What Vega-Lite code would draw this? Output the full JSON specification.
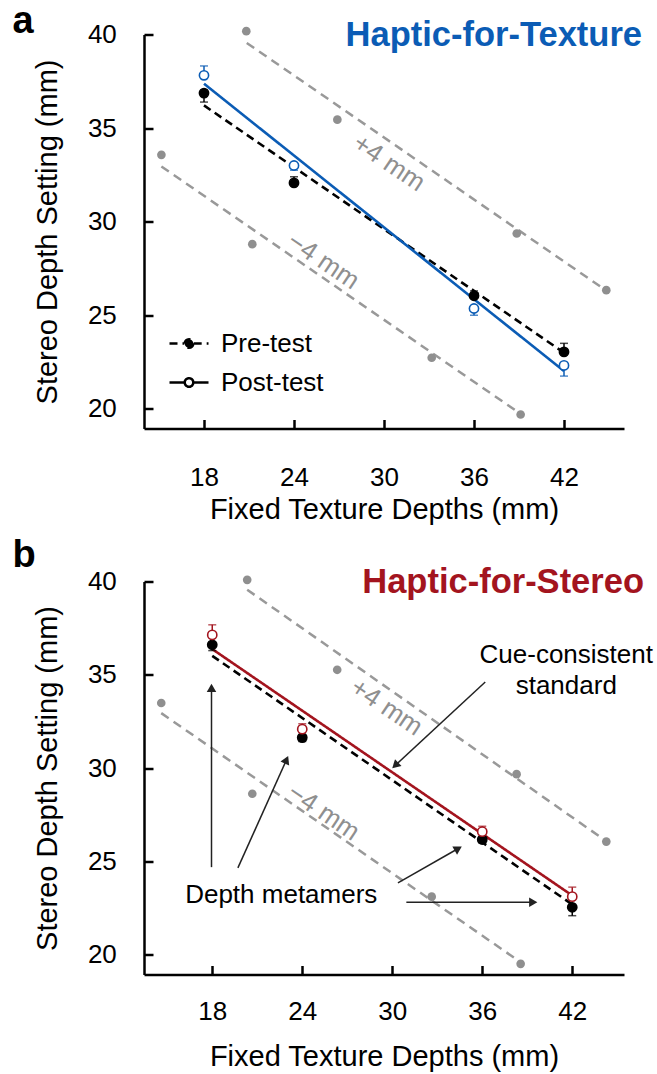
{
  "$schema": "https://vega.github.io/schema/vega-lite/v6.json",
  "padding": {"left": 12, "top": 2.5, "right": 5, "bottom": 5},
  "background": "white",
  "spacing": 12,
  "config": {
    "view": {"stroke": null},
    "font": "Liberation Sans",
    "axis": {
      "grid": false,
      "domainColor": "black",
      "domainWidth": 2.5,
      "tickColor": "black",
      "tickWidth": 2.5,
      "tickSize": -9,
      "labelFont": "Liberation Sans",
      "labelFontSize": 26,
      "labelColor": "black",
      "titleFont": "Liberation Sans",
      "titleFontSize": 29,
      "titleFontWeight": "normal",
      "titleColor": "black",
      "labelFlush": false,
      "labelOverlap": false
    }
  },
  "resolve": {
    "scale": {"x": "independent", "y": "independent", "color": "independent", "strokeDash": "independent", "stroke": "independent", "fill": "independent"},
    "legend": {"strokeDash": "independent", "color": "independent"}
  },
  "datasets": {
    "guides": [
      {"panel": "a", "offset": "+4", "x": 20.85, "y": 39.55},
      {"panel": "a", "offset": "+4", "x": 44.45, "y": 26.52},
      {"panel": "a", "offset": "-4", "x": 15.16, "y": 32.95},
      {"panel": "a", "offset": "-4", "x": 38.78, "y": 19.91},
      {"panel": "b", "offset": "+4", "x": 20.33, "y": 39.56},
      {"panel": "b", "offset": "+4", "x": 43.9, "y": 26.3},
      {"panel": "b", "offset": "-4", "x": 14.6, "y": 32.95},
      {"panel": "b", "offset": "-4", "x": 38.23, "y": 19.79}
    ],
    "dots": [
      {"panel": "a", "x": 20.82, "y": 40.18},
      {"panel": "a", "x": 26.89, "y": 35.45},
      {"panel": "a", "x": 38.85, "y": 29.37},
      {"panel": "a", "x": 44.82, "y": 26.34},
      {"panel": "a", "x": 15.16, "y": 33.57},
      {"panel": "a", "x": 21.22, "y": 28.8},
      {"panel": "a", "x": 33.18, "y": 22.73},
      {"panel": "a", "x": 39.11, "y": 19.7},
      {"panel": "b", "x": 20.33, "y": 40.09},
      {"panel": "b", "x": 26.33, "y": 35.27},
      {"panel": "b", "x": 38.29, "y": 29.68},
      {"panel": "b", "x": 44.27, "y": 26.07},
      {"panel": "b", "x": 14.6, "y": 33.49},
      {"panel": "b", "x": 20.67, "y": 28.63},
      {"panel": "b", "x": 32.63, "y": 23.12},
      {"panel": "b", "x": 38.56, "y": 19.52}
    ],
    "fits": [
      {"panel": "a", "test": "Pre-test", "x": 18, "y": 36.21},
      {"panel": "a", "test": "Pre-test", "x": 42, "y": 23.0},
      {"panel": "a", "test": "Post-test", "x": 18, "y": 37.37},
      {"panel": "a", "test": "Post-test", "x": 42, "y": 22.02},
      {"panel": "b", "test": "Pre-test", "x": 18, "y": 36.02},
      {"panel": "b", "test": "Pre-test", "x": 42, "y": 22.7},
      {"panel": "b", "test": "Post-test", "x": 18, "y": 36.38},
      {"panel": "b", "test": "Post-test", "x": 42, "y": 23.18}
    ],
    "means": [
      {"panel": "a", "test": "Pre-test", "x": 18, "y": 36.87},
      {"panel": "a", "test": "Pre-test", "x": 24, "y": 32.07},
      {"panel": "a", "test": "Pre-test", "x": 36, "y": 26.04},
      {"panel": "a", "test": "Pre-test", "x": 42, "y": 23.04},
      {"panel": "a", "test": "Post-test", "x": 18, "y": 37.82},
      {"panel": "a", "test": "Post-test", "x": 24, "y": 33.0},
      {"panel": "a", "test": "Post-test", "x": 36, "y": 25.36},
      {"panel": "a", "test": "Post-test", "x": 42, "y": 22.32},
      {"panel": "b", "test": "Pre-test", "x": 18, "y": 36.61},
      {"panel": "b", "test": "Pre-test", "x": 24, "y": 31.64},
      {"panel": "b", "test": "Pre-test", "x": 36, "y": 26.18},
      {"panel": "b", "test": "Pre-test", "x": 42, "y": 22.55},
      {"panel": "b", "test": "Post-test", "x": 18, "y": 37.14},
      {"panel": "b", "test": "Post-test", "x": 24, "y": 32.09},
      {"panel": "b", "test": "Post-test", "x": 36, "y": 26.6},
      {"panel": "b", "test": "Post-test", "x": 42, "y": 23.12}
    ],
    "errorBars": [
      {"panel": "a", "test": "Pre-test", "x": 18, "y": 36.39, "y2": 36.87},
      {"panel": "a", "test": "Pre-test", "x": 24, "y": 32.4, "y2": 32.07},
      {"panel": "a", "test": "Pre-test", "x": 36, "y": 26.3, "y2": 26.04},
      {"panel": "a", "test": "Pre-test", "x": 42, "y": 23.5, "y2": 23.04},
      {"panel": "a", "test": "Post-test", "x": 18, "y": 38.32, "y2": 37.82},
      {"panel": "a", "test": "Post-test", "x": 24, "y": 32.75, "y2": 33.0},
      {"panel": "a", "test": "Post-test", "x": 36, "y": 25.0, "y2": 25.36},
      {"panel": "a", "test": "Post-test", "x": 42, "y": 21.75, "y2": 22.32},
      {"panel": "b", "test": "Pre-test", "x": 18, "y": 36.3, "y2": 36.61},
      {"panel": "b", "test": "Pre-test", "x": 24, "y": 31.43, "y2": 31.64},
      {"panel": "b", "test": "Pre-test", "x": 36, "y": 26.0, "y2": 26.18},
      {"panel": "b", "test": "Pre-test", "x": 42, "y": 22.1, "y2": 22.55},
      {"panel": "b", "test": "Post-test", "x": 18, "y": 37.68, "y2": 37.14},
      {"panel": "b", "test": "Post-test", "x": 24, "y": 32.38, "y2": 32.09},
      {"panel": "b", "test": "Post-test", "x": 36, "y": 26.89, "y2": 26.6},
      {"panel": "b", "test": "Post-test", "x": 42, "y": 23.63, "y2": 23.12}
    ],
    "offsetLabels": [
      {"panel": "a", "text": "+4 mm", "x": 30.33, "y": 33.13},
      {"panel": "a", "text": "−4 mm", "x": 25.95, "y": 27.9},
      {"panel": "b", "text": "+4 mm", "x": 29.62, "y": 33.26},
      {"panel": "b", "text": "−4 mm", "x": 25.42, "y": 27.64}
    ],
    "headings": [
      {"panel": "a", "text": "Haptic-for-Texture", "x": 46, "y": 40},
      {"panel": "b", "text": "Haptic-for-Stereo", "x": 45.45, "y": 40}
    ],
    "arrows": [
      {"x": 30.2, "y": 30.15, "x2": 36.2, "y2": 34.62, "heading": 227},
      {"x": 17.95, "y": 34.3, "x2": 17.95, "y2": 24.7, "heading": 0},
      {"x": 22.95, "y": 30.45, "x2": 19.71, "y2": 24.66, "heading": 24},
      {"x": 34.4, "y": 25.7, "x2": 30.38, "y2": 23.86, "heading": 60},
      {"x": 39.4, "y": 22.82, "x2": 30.94, "y2": 22.82, "heading": 90}
    ],
    "notes": [
      {"text": "Cue-consistent", "x": 41.6, "y": 36.07},
      {"text": "standard", "x": 41.6, "y": 34.38},
      {"text": "Depth metamers", "x": 22.6, "y": 23.2}
    ]
  },
  "vconcat": [
    {
      "width": 480,
      "height": 394,
      "title": {"text": "a", "anchor": "start", "frame": "bounds", "fontSize": 38, "fontWeight": "bold", "font": "Liberation Sans", "color": "black", "dx": -21, "offset": -23},
      "encoding": {
        "x": {"field": "x", "type": "quantitative", "scale": {"domain": [14, 46], "nice": false, "zero": false},
              "axis": {"values": [18, 24, 30, 36, 42], "title": "Fixed Texture Depths (mm)", "labelPadding": 44.5, "titlePadding": 5.5}},
        "y": {"field": "y", "type": "quantitative", "scale": {"domain": [18.95, 40], "nice": false, "zero": false},
              "axis": {"values": [20, 25, 30, 35, 40], "title": "Stereo Depth Setting (mm)", "labelPadding": 36.7, "titlePadding": 25}}
      },
      "layer": [
        {
          "data": {"name": "guides"},
          "transform": [{"filter": "datum.panel === 'a'"}],
          "mark": {"type": "line", "color": "#999999", "strokeWidth": 2.5, "strokeDash": [9, 6], "clip": false},
          "encoding": {"detail": {"field": "offset"}}
        },
        {
          "data": {"name": "dots"},
          "transform": [{"filter": "datum.panel === 'a'"}],
          "mark": {"type": "point", "filled": true, "color": "#8f8f8f", "size": 75, "opacity": 1, "clip": false}
        },
        {
          "data": {"name": "offsetLabels"},
          "transform": [{"filter": "datum.panel === 'a'"}],
          "mark": {"type": "text", "angle": 34, "fontSize": 26, "color": "#8f8f8f", "align": "center", "baseline": "middle"},
          "encoding": {"text": {"field": "text"}}
        },
        {
          "data": {"name": "fits"},
          "transform": [{"filter": "datum.panel === 'a'"}],
          "mark": {"type": "line", "strokeWidth": 2.6},
          "encoding": {
            "detail": {"field": "test"},
            "color": {"field": "test", "type": "nominal", "scale": {"domain": ["Post-test", "Pre-test"], "range": ["#0b5cb5", "black"]}, "legend": null},
            "strokeDash": {"field": "test", "type": "nominal", "scale": {"domain": ["Pre-test", "Post-test"], "range": [[8, 5], [1, 0]]},
              "legend": {
                "title": null, "orient": "none", "legendX": 24, "legendY": 288,
                "symbolType": "M-1,0H-0.24M0.24,0H1M0.22,0A0.22,0.22,0,1,1,-0.22,0A0.22,0.22,0,1,1,0.22,0",
                "symbolSize": 1521, "symbolStrokeWidth": 2.5, "symbolStrokeColor": "black",
                "labelFont": "Liberation Sans", "labelFontSize": 26, "labelColor": "black", "labelOffset": 11, "rowPadding": 5,
                "encode": {"symbols": {"update": {
                  "fill": {"signal": "datum.value === 'Pre-test' ? 'black' : 'white'"},
                  "stroke": {"value": "black"},
                  "strokeWidth": {"value": 2.5}
                }}}
              }}
          }
        },
        {
          "data": {"name": "errorBars"},
          "transform": [{"filter": "datum.panel === 'a'"}],
          "mark": {"type": "rule", "strokeWidth": 1.5},
          "encoding": {
            "y2": {"field": "y2"},
            "color": {"field": "test", "type": "nominal", "scale": {"domain": ["Post-test", "Pre-test"], "range": ["#0b5cb5", "black"]}, "legend": null}
          }
        },
        {
          "data": {"name": "errorBars"},
          "transform": [{"filter": "datum.panel === 'a'"}],
          "mark": {"type": "point", "shape": "stroke", "size": 64, "strokeWidth": 1.5},
          "encoding": {
            "color": {"field": "test", "type": "nominal", "scale": {"domain": ["Post-test", "Pre-test"], "range": ["#0b5cb5", "black"]}, "legend": null}
          }
        },
        {
          "data": {"name": "means"},
          "transform": [{"filter": "datum.panel === 'a'"}],
          "mark": {"type": "point", "size": 85, "strokeWidth": 1.6, "opacity": 1},
          "encoding": {
            "stroke": {"field": "test", "type": "nominal", "scale": {"domain": ["Post-test", "Pre-test"], "range": ["#0b5cb5", "black"]}, "legend": null},
            "fill": {"field": "test", "type": "nominal", "scale": {"domain": ["Post-test", "Pre-test"], "range": ["white", "black"]}, "legend": null}
          }
        },
        {
          "data": {"name": "headings"},
          "transform": [{"filter": "datum.panel === 'a'"}],
          "mark": {"type": "text", "align": "right", "baseline": "alphabetic", "fontSize": 34.5, "fontWeight": "bold", "color": "#0b5cb5", "dx": 18, "dy": 11, "clip": false},
          "encoding": {"text": {"field": "text"}}
        }
      ]
    },
    {
      "width": 480,
      "height": 393,
      "title": {"text": "b", "anchor": "start", "frame": "bounds", "fontSize": 38, "fontWeight": "bold", "font": "Liberation Sans", "color": "black", "dx": -21, "offset": -10},
      "encoding": {
        "x": {"field": "x", "type": "quantitative", "scale": {"domain": [13.45, 45.45], "nice": false, "zero": false},
              "axis": {"values": [18, 24, 30, 36, 42], "title": "Fixed Texture Depths (mm)", "labelPadding": 33.2, "titlePadding": 17.8}},
        "y": {"field": "y", "type": "quantitative", "scale": {"domain": [18.95, 40], "nice": false, "zero": false},
              "axis": {"values": [20, 25, 30, 35, 40], "title": "Stereo Depth Setting (mm)", "labelPadding": 36.7, "titlePadding": 25}}
      },
      "layer": [
        {
          "data": {"name": "guides"},
          "transform": [{"filter": "datum.panel === 'b'"}],
          "mark": {"type": "line", "color": "#999999", "strokeWidth": 2.5, "strokeDash": [9, 6], "clip": false},
          "encoding": {"detail": {"field": "offset"}}
        },
        {
          "data": {"name": "dots"},
          "transform": [{"filter": "datum.panel === 'b'"}],
          "mark": {"type": "point", "filled": true, "color": "#8f8f8f", "size": 75, "opacity": 1, "clip": false}
        },
        {
          "data": {"name": "offsetLabels"},
          "transform": [{"filter": "datum.panel === 'b'"}],
          "mark": {"type": "text", "angle": 34, "fontSize": 26, "color": "#8f8f8f", "align": "center", "baseline": "middle"},
          "encoding": {"text": {"field": "text"}}
        },
        {
          "data": {"name": "arrows"},
          "mark": {"type": "rule", "color": "#222222", "strokeWidth": 1.5},
          "encoding": {"x2": {"field": "x2"}, "y2": {"field": "y2"}}
        },
        {
          "data": {"name": "arrows"},
          "mark": {"type": "point", "shape": "triangle-up", "filled": true, "color": "#222222", "size": 90, "opacity": 1},
          "encoding": {
            "angle": {"field": "heading", "type": "quantitative", "scale": null}
          }
        },
        {
          "data": {"name": "notes"},
          "mark": {"type": "text", "fontSize": 26, "color": "black", "align": "center", "baseline": "middle"},
          "encoding": {"text": {"field": "text"}}
        },
        {
          "data": {"name": "fits"},
          "transform": [{"filter": "datum.panel === 'b'"}],
          "mark": {"type": "line", "strokeWidth": 2.6},
          "encoding": {
            "detail": {"field": "test"},
            "color": {"field": "test", "type": "nominal", "scale": {"domain": ["Post-test", "Pre-test"], "range": ["#a3141e", "black"]}, "legend": null},
            "strokeDash": {"field": "test", "type": "nominal", "scale": {"domain": ["Pre-test", "Post-test"], "range": [[8, 5], [1, 0]]}, "legend": null}
          }
        },
        {
          "data": {"name": "errorBars"},
          "transform": [{"filter": "datum.panel === 'b'"}],
          "mark": {"type": "rule", "strokeWidth": 1.5},
          "encoding": {
            "y2": {"field": "y2"},
            "color": {"field": "test", "type": "nominal", "scale": {"domain": ["Post-test", "Pre-test"], "range": ["#a3141e", "black"]}, "legend": null}
          }
        },
        {
          "data": {"name": "errorBars"},
          "transform": [{"filter": "datum.panel === 'b'"}],
          "mark": {"type": "point", "shape": "stroke", "size": 64, "strokeWidth": 1.5},
          "encoding": {
            "color": {"field": "test", "type": "nominal", "scale": {"domain": ["Post-test", "Pre-test"], "range": ["#a3141e", "black"]}, "legend": null}
          }
        },
        {
          "data": {"name": "means"},
          "transform": [{"filter": "datum.panel === 'b'"}],
          "mark": {"type": "point", "size": 85, "strokeWidth": 1.6, "opacity": 1},
          "encoding": {
            "stroke": {"field": "test", "type": "nominal", "scale": {"domain": ["Post-test", "Pre-test"], "range": ["#a3141e", "black"]}, "legend": null},
            "fill": {"field": "test", "type": "nominal", "scale": {"domain": ["Post-test", "Pre-test"], "range": ["white", "black"]}, "legend": null}
          }
        },
        {
          "data": {"name": "headings"},
          "transform": [{"filter": "datum.panel === 'b'"}],
          "mark": {"type": "text", "align": "right", "baseline": "alphabetic", "fontSize": 34.5, "fontWeight": "bold", "color": "#a3141e", "dx": 20, "dy": 11, "clip": false},
          "encoding": {"text": {"field": "text"}}
        }
      ]
    }
  ]
}
